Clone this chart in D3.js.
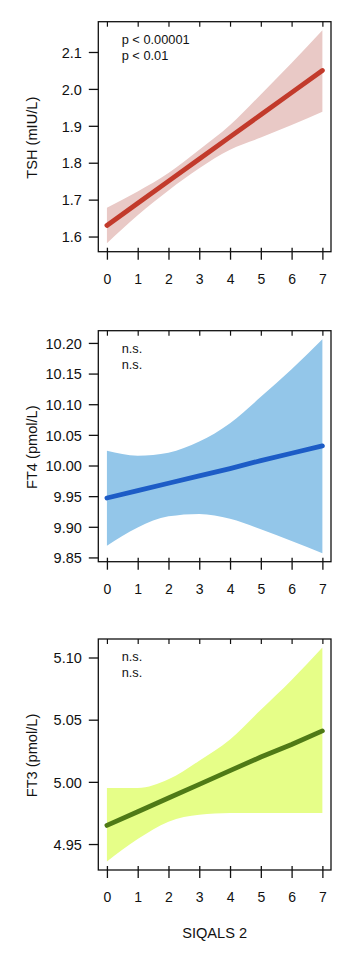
<!DOCTYPE html>
<html>
<head>
<meta charset="utf-8">
<script src="https://cdn.jsdelivr.net/npm/d3@7"></script>
<style>
  html, body { margin: 0; padding: 0; background: #fff; }
  svg { display: block; }
  text { font-family: "Liberation Sans", Arial, Helvetica, sans-serif; fill: #111; }
</style>
</head>
<body>
<svg id="chart" width="364" height="955"></svg>
<script>
// ---- data ----
const xValues = [0, 1, 2, 3, 4, 5, 6, 7];
const xTickLabels = ["0", "1", "2", "3", "4", "5", "6", "7"];
const xTitle = "SIQALS 2";

// TSH
const tshFit   = [1.63, 1.69, 1.75, 1.81, 1.87, 1.93, 1.99, 2.05];
const tshUpper = [1.678, 1.722, 1.772, 1.835, 1.902, 1.985, 2.070, 2.159];
const tshLower = [1.582, 1.658, 1.725, 1.785, 1.835, 1.868, 1.902, 1.938];
const tshTicks = [1.6, 1.7, 1.8, 1.9, 2.0, 2.1];
const tshTickLabels = ["1.6", "1.7", "1.8", "1.9", "2.0", "2.1"];
const tshTitle = "TSH (mIU/L)";
const tshNotes = ["p < 0.00001", "p < 0.01"];

// FT4
const ft4Fit   = [9.947, 9.959, 9.971, 9.983, 9.995, 10.008, 10.020, 10.032];
const ft4Upper = [10.024, 10.016, 10.021, 10.039, 10.069, 10.112, 10.157, 10.206];
const ft4Lower = [9.869, 9.899, 9.917, 9.921, 9.913, 9.896, 9.877, 9.857];
const ft4Ticks = [9.85, 9.90, 9.95, 10.00, 10.05, 10.10, 10.15, 10.20];
const ft4TickLabels = ["9.85", "9.90", "9.95", "10.00", "10.05", "10.10", "10.15", "10.20"];
const ft4Title = "FT4 (pmol/L)";
const ft4Notes = ["n.s.", "n.s."];

// FT3
const ft3Fit   = [4.965, 4.976, 4.987, 4.998, 5.009, 5.020, 5.030, 5.041];
const ft3Upper = [4.995, 4.995, 5.002, 5.017, 5.034, 5.058, 5.082, 5.108];
const ft3Lower = [4.936, 4.954, 4.968, 4.9735, 4.9749, 4.975, 4.975, 4.975];
const ft3Ticks = [4.95, 5.00, 5.05, 5.10];
const ft3TickLabels = ["4.95", "5.00", "5.05", "5.10"];
const ft3Title = "FT3 (pmol/L)";
const ft3Notes = ["n.s.", "n.s."];

const panels = [
  { fit: tshFit, upper: tshUpper, lower: tshLower, ticks: tshTicks, labels: tshTickLabels,
    title: tshTitle, notes: tshNotes, band: "#e9c9c6", line: "#c23a2b", top: 21.7, bottom: 251.7 },
  { fit: ft4Fit, upper: ft4Upper, lower: ft4Lower, ticks: ft4Ticks, labels: ft4TickLabels,
    title: ft4Title, notes: ft4Notes, band: "#93c6e9", line: "#1d5cc6", top: 330.7, bottom: 561.7 },
  { fit: ft3Fit, upper: ft3Upper, lower: ft3Lower, ticks: ft3Ticks, labels: ft3TickLabels,
    title: ft3Title, notes: ft3Notes, band: "#e6fe88", line: "#4f7a16", top: 639, bottom: 870 }
];

const svg = d3.select("#chart");
const left = 98.3, right = 331;
const FONT = "Liberation Sans, Arial, sans-serif";

function padded(lo, hi) {
  const d = (hi - lo) * 0.04;
  return [lo - d, hi + d];
}

const x = d3.scaleLinear().domain(padded(0, 7)).range([left, right]);

panels.forEach((p, i) => {
  const lo = d3.min(p.lower), hi = d3.max(p.upper);
  const y = d3.scaleLinear().domain(padded(lo, hi)).range([p.bottom, p.top]);
  const g = svg.append("g");

  const rows = xValues.map((v, k) => ({ x: v, f: p.fit[k], u: p.upper[k], l: p.lower[k] }));

  // confidence band
  g.append("path")
    .datum(rows)
    .attr("fill", p.band)
    .attr("d", d3.area().curve(d3.curveMonotoneX)
      .x(d => x(d.x)).y0(d => y(d.l)).y1(d => y(d.u)));

  // fitted line
  g.append("path")
    .datum(rows)
    .attr("fill", "none")
    .attr("stroke", p.line)
    .attr("stroke-width", 4.8)
    .attr("stroke-linecap", "round")
    .attr("d", d3.line().x(d => x(d.x)).y(d => y(d.f)));

  // frame
  g.append("rect")
    .attr("x", left).attr("y", p.top)
    .attr("width", right - left).attr("height", p.bottom - p.top)
    .attr("fill", "none").attr("stroke", "#111").attr("stroke-width", 1.3);

  // bottom axis (ticks crossing the frame)
  const xb = g.append("g")
    .attr("transform", `translate(0,${p.bottom - 4})`)
    .call(d3.axisBottom(x).tickValues(xValues).tickFormat((d, k) => xTickLabels[k])
      .tickSizeInner(12).tickSizeOuter(0));
  xb.select(".domain").remove();
  xb.selectAll(".tick line").attr("stroke", "#111").attr("stroke-width", 1.3);
  xb.selectAll(".tick text").attr("y", 36.3).attr("dy", 0)
    .attr("font-size", 14).attr("font-family", FONT).attr("fill", "#111");

  // top inward ticks
  const xt = g.append("g")
    .attr("transform", `translate(0,${p.top})`)
    .call(d3.axisBottom(x).tickValues(xValues).tickFormat("").tickSizeInner(5).tickSizeOuter(0));
  xt.select(".domain").remove();
  xt.selectAll(".tick line").attr("stroke", "#111").attr("stroke-width", 1.2);

  // left axis
  const ya = g.append("g")
    .attr("transform", `translate(${left},0)`)
    .call(d3.axisLeft(y).tickValues(p.ticks).tickFormat((d, k) => p.labels[k])
      .tickSizeInner(9.5).tickSizeOuter(0));
  ya.select(".domain").remove();
  ya.selectAll(".tick line").attr("stroke", "#111").attr("stroke-width", 1.3);
  ya.selectAll(".tick text").attr("x", -16.5).attr("dy", "0.36em")
    .attr("font-size", 14.5).attr("font-family", FONT).attr("fill", "#111");

  // y title
  const cy = (p.top + p.bottom) / 2 + 1;
  g.append("text")
    .attr("transform", `translate(36.5,${cy}) rotate(-90)`)
    .attr("text-anchor", "middle")
    .attr("font-size", 14.6)
    .text(p.title);

  // annotations
  p.notes.forEach((t, k) => {
    g.append("text")
      .attr("x", 121.7)
      .attr("y", p.top + 22 + k * 16)
      .attr("font-size", 12.8)
      .text(t);
  });
});

// x title
svg.append("text")
  .attr("x", (left + right) / 2)
  .attr("y", 938)
  .attr("text-anchor", "middle")
  .attr("font-size", 14.6)
  .text(xTitle);
</script>
</body>
</html>
